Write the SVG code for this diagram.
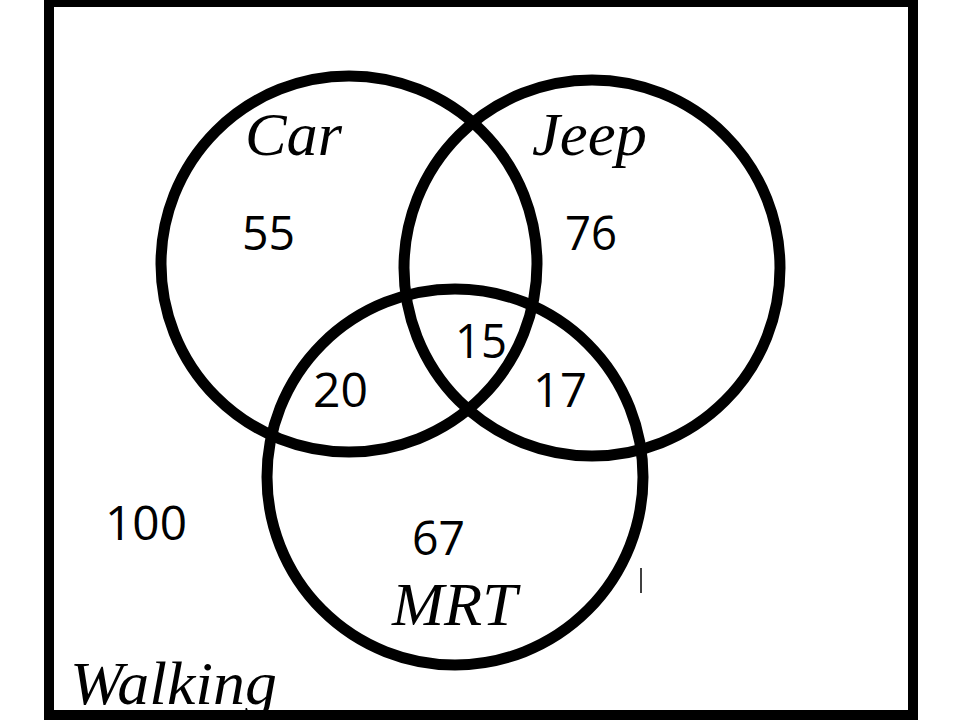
<svg xmlns="http://www.w3.org/2000/svg" width="960" height="720" viewBox="0 0 960 720">
<style>
.set{fill:none;stroke:#000;stroke-width:11}
.lbl{font-family:"Liberation Serif","Times New Roman",serif;font-style:italic;font-size:62px;fill:#000}
.num{font-family:"Open Sans","Liberation Sans",sans-serif;font-size:47px;fill:#000}
</style>
<rect width="960" height="720" fill="#fff"/>
<g id="walking">
<text class="lbl" x="70" y="704" textLength="207" lengthAdjust="spacingAndGlyphs">Walking</text>
<text class="num" x="105" y="540" textLength="82" lengthAdjust="spacingAndGlyphs">100</text>
</g>
<g id="car">
<circle class="set" cx="349" cy="264" r="188"/>
<text class="lbl" x="245" y="155" textLength="97" lengthAdjust="spacingAndGlyphs">Car</text>
<text class="num" x="242" y="250" textLength="53" lengthAdjust="spacingAndGlyphs">55</text>
</g>
<g id="jeep">
<circle class="set" cx="592" cy="268" r="188"/>
<text class="lbl" x="532" y="155" textLength="115" lengthAdjust="spacingAndGlyphs">Jeep</text>
<text class="num" x="565" y="250" textLength="52" lengthAdjust="spacingAndGlyphs">76</text>
</g>
<g id="mrt">
<circle class="set" cx="455" cy="477" r="188"/>
<text class="lbl" x="392" y="625" textLength="125" lengthAdjust="spacingAndGlyphs">MRT</text>
<text class="num" x="412" y="555" textLength="53" lengthAdjust="spacingAndGlyphs">67</text>
</g>
<g id="intersections">
<text class="num" x="455" y="358" textLength="52" lengthAdjust="spacingAndGlyphs">15</text>
<text class="num" x="313" y="407" textLength="55" lengthAdjust="spacingAndGlyphs">20</text>
<text class="num" x="533" y="407" textLength="54" lengthAdjust="spacingAndGlyphs">17</text>
</g>
<g id="connectors">
<line x1="641" y1="568" x2="641" y2="593" stroke="#000" stroke-width="1.5"/>
</g>
<g id="universe">
<rect x="49" y="2" width="864" height="713" fill="none" stroke="#000" stroke-width="10"/>
</g>
</svg>
